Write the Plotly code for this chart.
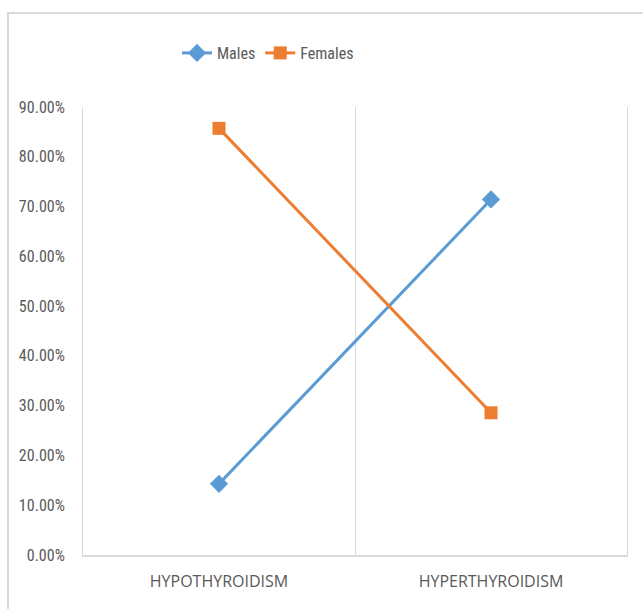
import plotly.graph_objects as go

categories = ["HYPOTHYROIDISM", "HYPERTHYROIDISM"]
males = [0.1429, 0.7143]
females = [0.8571, 0.2857]
y_ticks = [0, 0.1, 0.2, 0.3, 0.4, 0.5, 0.6, 0.7, 0.8, 0.9]

W, H = 643, 609
ML, MR, MT, MB = 83, 16, 107, 54
font_fam = "Liberation Sans Narrow, Roboto Condensed, Open Sans, sans-serif"

fig = go.Figure()
fig.add_trace(go.Scatter(x=categories, y=males, name="Males", mode="lines+markers",
                         line=dict(color="#5b9bd5", width=3),
                         marker=dict(symbol="diamond", size=14, color="#5b9bd5")))
fig.add_trace(go.Scatter(x=categories, y=females, name="Females", mode="lines+markers",
                         line=dict(color="#ed7d31", width=3),
                         marker=dict(symbol="square", size=13, color="#ed7d31")))

pw = W - ML - MR
ph = H - MT - MB
fig.add_shape(type="rect", xref="paper", yref="paper",
              x0=(8 - ML) / pw, x1=(660 - ML) / pw,
              y0=-(630 - MT - ph) / ph, y1=1 + (MT - 13) / ph,
              line=dict(color="#d9d9d9", width=2), layer="below")

fig.update_layout(
    width=W, height=H,
    margin=dict(l=ML, r=MR, t=MT, b=MB),
    paper_bgcolor="white", plot_bgcolor="white",
    font=dict(family=font_fam, color="#595959", size=14),
    showlegend=True,
    legend=dict(orientation="h", x=(268 - ML) / pw, xanchor="center", y=1 + (MT - 53) / ph,
                yanchor="middle", font=dict(size=16, color="#595959"), itemwidth=30,
                tracegroupgap=0),
    xaxis=dict(type="category", range=[-0.5, 1.5], showgrid=True, gridcolor="#d9d9d9", gridwidth=1,
               tickson="boundaries", ticks="", showline=True, linecolor="#d9d9d9", linewidth=2,
               tickfont=dict(family="Open Sans, DejaVu Sans", size=16, color="#595959"),
               ticklabelstandoff=11, fixedrange=True),
    yaxis=dict(range=[0, 0.9], tickvals=y_ticks, tickformat=".2%", showgrid=False, zeroline=False,
               showline=True, mirror=True, linecolor="#d9d9d9", linewidth=1,
               ticks="", ticklabelstandoff=14,
               tickfont=dict(size=16, color="#595959"), fixedrange=True),
)

fig.write_html("out.html")
